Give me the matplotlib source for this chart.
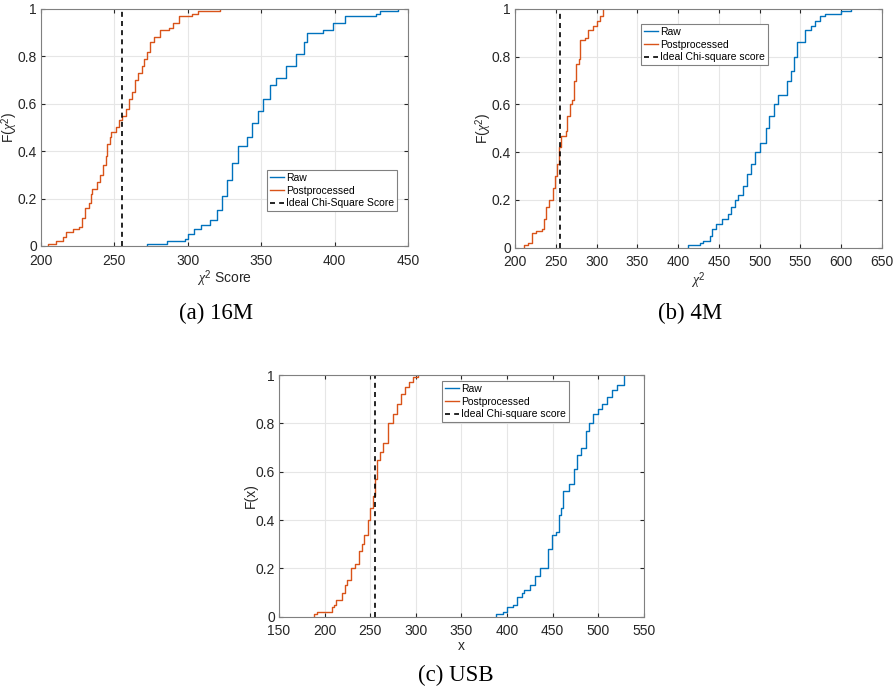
import matplotlib
matplotlib.use("Agg")
import matplotlib.pyplot as plt

# ECDF breakpoints: x where the step happens, F after the step
a_post_x = [205, 210, 215, 217, 222, 226, 228, 230, 233, 234, 235, 238, 240, 242, 244, 245, 247, 248, 251, 253,
            255, 258, 260, 262, 264, 266, 269, 270, 272, 274, 277, 281, 287, 290, 294, 303, 307, 322]
a_post_f = [0.01, 0.02, 0.04, 0.06, 0.07, 0.08, 0.12, 0.16, 0.18, 0.22, 0.24, 0.27, 0.30, 0.34, 0.38, 0.43, 0.46, 0.48, 0.50, 0.53,
            0.55, 0.58, 0.62, 0.65, 0.70, 0.73, 0.76, 0.79, 0.82, 0.86, 0.88, 0.91, 0.92, 0.94, 0.97, 0.98, 0.99, 1.0]
a_raw_x = [272, 286, 298, 300, 304, 309, 315, 320, 323, 327, 330, 334, 340, 344, 348, 351, 356, 360, 367, 374,
           379, 381, 392, 399, 407, 428, 431, 443]
a_raw_f = [0.01, 0.02, 0.03, 0.05, 0.07, 0.09, 0.11, 0.15, 0.21, 0.28, 0.35, 0.42, 0.46, 0.52, 0.57, 0.62, 0.68, 0.71, 0.76, 0.81,
           0.86, 0.90, 0.91, 0.94, 0.97, 0.98, 0.99, 1.0]

b_post_x = [211, 216, 221, 226, 233, 236, 238, 242, 246, 249, 252, 254, 257, 262, 264, 267, 270, 272, 275, 278,
            280, 286, 289, 296, 301, 304, 308]
b_post_f = [0.01, 0.02, 0.06, 0.07, 0.08, 0.12, 0.17, 0.20, 0.25, 0.30, 0.35, 0.42, 0.47, 0.49, 0.55, 0.60, 0.62, 0.70, 0.77, 0.79,
            0.87, 0.88, 0.91, 0.93, 0.95, 0.97, 1.0]
b_raw_x = [412, 427, 430, 439, 441, 447, 454, 461, 465, 470, 474, 480, 485, 489, 494, 500, 508, 511, 518, 523,
           533, 539, 542, 546, 555, 563, 568, 574, 580, 600, 612]
b_raw_f = [0.01, 0.02, 0.03, 0.05, 0.08, 0.10, 0.12, 0.14, 0.17, 0.20, 0.22, 0.26, 0.31, 0.35, 0.40, 0.44, 0.50, 0.55, 0.60, 0.64,
           0.70, 0.74, 0.80, 0.86, 0.91, 0.93, 0.95, 0.97, 0.98, 0.99, 1.0]

c_post_x = [188, 192, 208, 210, 212, 219, 222, 225, 229, 233, 238, 241, 243, 248, 250, 253, 255, 257, 261, 264,
            269, 275, 279, 284, 288, 293, 297, 302]
c_post_f = [0.01, 0.02, 0.04, 0.05, 0.07, 0.10, 0.13, 0.15, 0.20, 0.22, 0.27, 0.30, 0.34, 0.40, 0.45, 0.50, 0.57, 0.65, 0.68, 0.72,
            0.80, 0.84, 0.88, 0.92, 0.95, 0.97, 0.99, 1.0]
c_raw_x = [388, 395, 400, 406, 411, 416, 419, 425, 431, 436, 445, 449, 454, 457, 459, 461, 468, 473, 477, 481,
           487, 490, 494, 500, 504, 510, 515, 520, 528]
c_raw_f = [0.01, 0.02, 0.04, 0.05, 0.08, 0.10, 0.11, 0.13, 0.17, 0.20, 0.28, 0.34, 0.35, 0.42, 0.45, 0.52, 0.55, 0.61, 0.67, 0.70,
           0.77, 0.80, 0.84, 0.86, 0.88, 0.91, 0.94, 0.96, 1.0]

ideal = 255

panels = [
    dict(rect=[0.0459, 0.6435, 0.411, 0.3435], xlim=(200, 450), xticks=range(200, 451, 50),
         raw=(a_raw_x, a_raw_f), post=(a_post_x, a_post_f),
         xlabel=r'$\chi^2$ Score', ylabel=r'F($\chi^2$)', ideal_label='Ideal Chi-Square Score',
         legend_xy=(267, 170), caption='(a) 16M', cap_xy=(216, 313)),
    dict(rect=[0.5767, 0.641, 0.411, 0.346], xlim=(200, 650), xticks=range(200, 651, 50),
         raw=(b_raw_x, b_raw_f), post=(b_post_x, b_post_f),
         xlabel=r'$\chi^2$', ylabel=r'F($\chi^2$)', ideal_label='Ideal Chi-square score',
         legend_xy=(641, 24), caption='(b) 4M', cap_xy=(690, 313)),
    dict(rect=[0.3124, 0.1062, 0.4087, 0.3503], xlim=(150, 550), xticks=range(150, 551, 50),
         raw=(c_raw_x, c_raw_f), post=(c_post_x, c_post_f),
         xlabel='x', ylabel='F(x)', ideal_label='Ideal Chi-square score',
         legend_xy=(442, 381), caption='(c) USB', cap_xy=(456, 675)),
]

W, H = 893, 690
plt.rcParams['font.family'] = ['Liberation Sans', 'DejaVu Sans']
plt.rcParams['mathtext.fontset'] = 'custom'
plt.rcParams['mathtext.rm'] = 'Liberation Sans'
plt.rcParams['mathtext.it'] = 'Liberation Serif:italic'
fig = plt.figure(figsize=(W / 100, H / 100), dpi=100)

blue = '#0072BD'
orange = '#D95319'
axcol = '#262626'

for p in panels:
    ax = fig.add_axes(p['rect'])
    rx, rf = p['raw']
    px, pf = p['post']
    ax.step([rx[0]] + rx, [0] + rf, where='post', color=blue, lw=1.0, label='Raw')
    ax.step([px[0]] + px, [0] + pf, where='post', color=orange, lw=1.0, label='Postprocessed')
    ax.axvline(ideal, color='black', ls=(0, (3, 2.5)), lw=1.2, label=p['ideal_label'])
    ax.set_xlim(*p['xlim'])
    ax.set_ylim(0, 1)
    ax.set_xticks(list(p['xticks']))
    ax.set_yticks([0, 0.2, 0.4, 0.6, 0.8, 1])
    ax.set_yticklabels(['0', '0.2', '0.4', '0.6', '0.8', '1'])
    ax.grid(True, color='#e6e6e6', lw=0.8)
    ax.set_axisbelow(True)
    ax.tick_params(direction='in', length=3, labelsize=10, colors=axcol, top=True, right=True)
    ax.tick_params(axis='x', pad=5.5)
    ax.tick_params(axis='y', pad=3)
    for s in ax.spines.values():
        s.set_color('#808080')
        s.set_linewidth(0.8)
    ax.set_xlabel(p['xlabel'], fontsize=10, color=axcol, labelpad=0.5)
    ax.set_ylabel(p['ylabel'], fontsize=10, color=axcol)
    ax_w = p['rect'][2] * W
    ax.yaxis.set_label_coords(-21 / ax_w, 0.5)
    lx, ly = p['legend_xy']
    leg = ax.legend(loc='upper left', bbox_to_anchor=(lx / W, 1 - ly / H), bbox_transform=fig.transFigure,
                    fontsize=7.5, handlelength=1.3, handletextpad=0.2, borderpad=0.3, labelspacing=0.25,
                    borderaxespad=0, fancybox=False, framealpha=1, edgecolor='#808080')
    leg.get_frame().set_linewidth(0.8)
    cx, cy = p['cap_xy']
    fig.text(cx / W, 1 - cy / H, p['caption'], ha='center', va='center', fontsize=16.5,
             family=['Liberation Serif', 'DejaVu Serif'])

fig.savefig('out.png', dpi=100)
